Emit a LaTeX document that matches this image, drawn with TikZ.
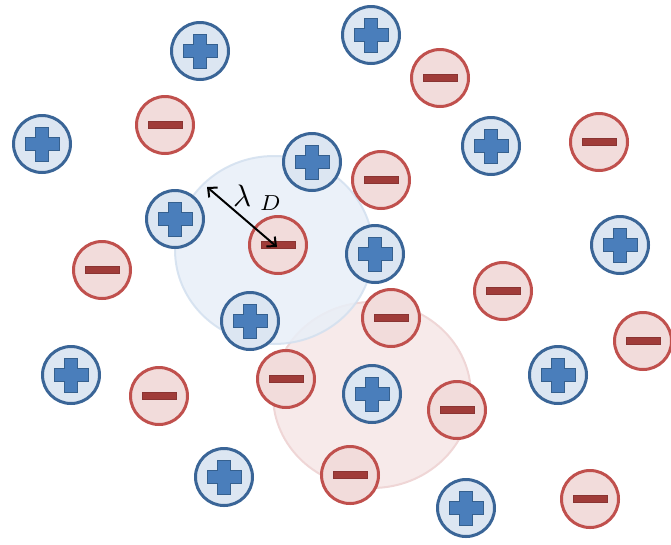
\documentclass[tikz,border=0pt]{standalone}
\usetikzlibrary{arrows.meta}
\definecolor{pfill}{HTML}{DCE6F2}
\definecolor{pdraw}{HTML}{3A6597}
\definecolor{psign}{HTML}{4A7EBB}
\definecolor{psignd}{HTML}{35608F}
\definecolor{mfill}{HTML}{F2DCDB}
\definecolor{mdraw}{HTML}{C0504D}
\definecolor{msign}{HTML}{A03C39}
\definecolor{msignd}{HTML}{8A3432}
\definecolor{bigb}{HTML}{E8EFF8}
\definecolor{bigbd}{HTML}{D3E0EF}
\definecolor{bigr}{HTML}{F7EAEA}
\definecolor{bigrd}{HTML}{EFD6D6}
\tikzset{
  poscharge/.style={circle, minimum size=57pt, inner sep=0pt, draw=pdraw, fill=pfill, line width=3pt},
  negcharge/.style={circle, minimum size=57pt, inner sep=0pt, draw=mdraw, fill=mfill, line width=3pt},
  plussign/.style={fill=psign, draw=psignd, line width=1pt, line join=miter},
  minussign/.style={fill=msign, draw=msignd, line width=1pt},
  debye/.style={draw=black, line width=2pt, {Straight Barb[length=7pt,width=13pt]}-{Straight Barb[length=7pt,width=13pt]}}
}
\newcommand\pcharge[2]{%
  \node[poscharge] (#1) at (#2) {};
  \path[plussign, shift={(#1.center)}] (-6.5,-17) -- (6.5,-17) -- (6.5,-6.5) -- (17,-6.5) -- (17,6.5) -- (6.5,6.5) -- (6.5,17) -- (-6.5,17) -- (-6.5,6.5) -- (-17,6.5) -- (-17,-6.5) -- (-6.5,-6.5) -- cycle;}
\newcommand\ncharge[2]{%
  \node[negcharge] (#1) at (#2) {};
  \path[minussign, shift={(#1.center)}] (-17,-3.8) rectangle (17,3.8);}
\begin{document}
\begin{tikzpicture}[x=1pt,y=-1pt]
\useasboundingbox (0,0) rectangle (671,544);
% screening clouds
\path[fill=bigr, draw=bigrd, line width=2pt] (372,395) ellipse [x radius=99, y radius=93];
\path[fill=bigb, draw=bigbd, line width=2pt, opacity=0.85] (274,250) ellipse [x radius=99, y radius=94];
% positive charges
\pcharge{p1}{200,51}
\pcharge{p2}{371,35}
\pcharge{p3}{42,144}
\pcharge{p4}{312,162}
\pcharge{p5}{491,146}
\pcharge{p6}{175,219}
\pcharge{p7}{375,254}
\pcharge{p8}{620,245}
\pcharge{p9}{250,321}
\pcharge{p10}{71,375}
\pcharge{p11}{372,394}
\pcharge{p12}{558,375}
\pcharge{p13}{224,477}
\pcharge{p14}{466,508}
% negative charges
\ncharge{n1}{440,78}
\ncharge{n2}{165,125}
\ncharge{n3}{599,142}
\ncharge{n4}{381,180}
\ncharge{n5}{102,270}
\ncharge{n6}{278,245}
\ncharge{n7}{503,291}
\ncharge{n8}{391,318}
\ncharge{n9}{643,341}
\ncharge{n10}{286,379}
\ncharge{n11}{159,396}
\ncharge{n12}{457,410}
\ncharge{n13}{350,475}
\ncharge{n14}{590,499}
% Debye length
\coordinate (edge) at (207,187);
\coordinate (tip) at (277,247);
\draw[debye] (edge) -- (tip);
\node[inner sep=0pt, anchor=base west] (lam) at (233,206) {\scalebox{3.1}{$\lambda_{\,\,D}$}};
\end{tikzpicture}
\end{document}
